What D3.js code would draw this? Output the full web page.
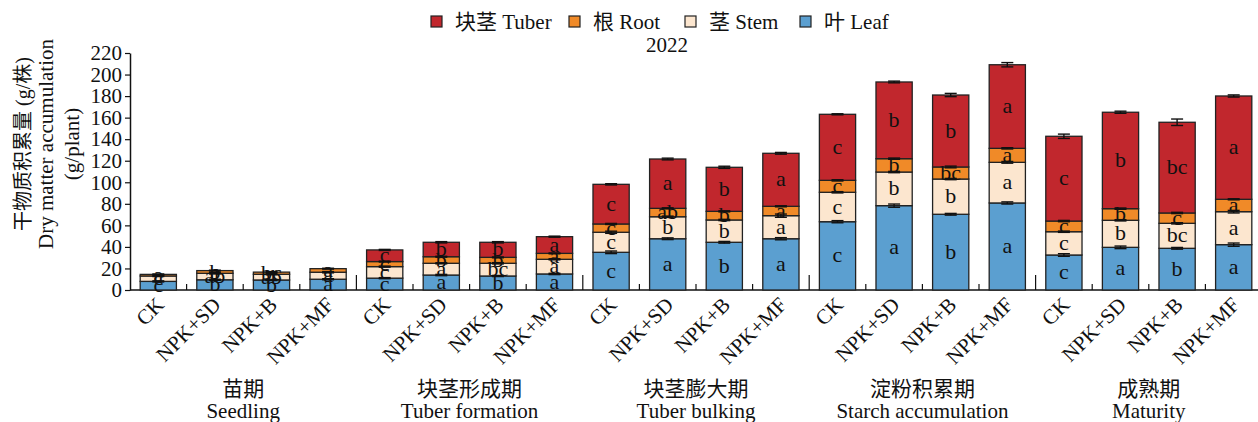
<!DOCTYPE html>
<html><head><meta charset="utf-8">
<script src="https://cdn.jsdelivr.net/npm/d3@7"></script>
<style>body{margin:0;background:#fff}svg{display:block}text{font-family:"Liberation Serif","Noto Sans CJK SC",serif;fill:#111}</style>
</head><body><svg id="c" width="1258" height="422"></svg>
<script>
const stagesCN = ["苗期","块茎形成期","块茎膨大期","淀粉积累期","成熟期"];
const stagesEN = ["Seedling","Tuber formation","Tuber bulking","Starch accumulation","Maturity"];
const treatments = ["CK","NPK+SD","NPK+B","NPK+MF"];
const seriesNames = ["叶 Leaf","茎 Stem","根 Root","块茎 Tuber"];
const legendOrder = ["块茎 Tuber","根 Root","茎 Stem","叶 Leaf"];
const yTicks = [0,20,40,60,80,100,120,140,160,180,200,220];
const title = "2022";
// values by stage x treatment (20 bars)
const leaf  = [8,9.5,9.3,10, 11,13.9,13,14.9, 35,47.6,44.3,47.6, 63.4,78.3,70.3,80.8, 32.5,39.6,38.7,42.1];
const stem  = [5,6,5.3,6.5, 10.7,10.9,11.8,13.6, 18.6,20.4,20.7,21.4, 27.3,31.2,32.7,37.7, 21.6,25.1,23.2,30.6];
const root  = [1.5,2.5,2,3.3, 4.7,6.1,5.5,5.5, 7.7,7.8,8,8.7, 11.1,12.4,11.2,13, 9.9,10.8,9.6,11.5];
const tuber = [0,0,0,0, 10.8,13.4,14,15.5, 36.8,45.8,40.9,49.2, 61.3,71.2,66.8,77.6, 78.7,89.5,84.2,95.9];
const leafErr  = [0.5,0.5,0.5,0.5, 0.5,0.6,0.5,0.6, 1.2,0.8,0.8,1, 1,1.5,0.8,1, 1.2,1.2,0.8,1.5];
const stemErr  = [0.5,0.6,0.5,0.6, 0.5,0.5,0.6,0.5, 1,0.6,0.6,1.5, 0.6,0.6,0.6,0.8, 0.6,0.6,0.6,1.2];
const rootErr  = [0.4,0.4,0.4,0.4, 0.4,0.4,0.4,0.4, 0.5,0.5,0.5,0.5, 0.6,0.6,0.8,0.6, 0.6,0.6,0.6,0.5];
const tuberErr = [0.5,0.6,0.5,0.5, 0.5,0.6,0.6,0.5, 0.6,0.8,1,0.8, 0.5,0.8,1.5,2, 2,1,3,1];
const leafLab  = ["c","b","b","a", "c","a","b","a", "c","a","b","a", "c","a","b","a", "c","a","b","a"];
const stemLab  = ["c","ab","ab","a", "c","a","bc","a", "c","b","b","a", "c","b","b","a", "c","b","bc","a"];
const rootLab  = ["a","b","bc","a", "c","b","b","a", "c","ab","b","a", "c","b","bc","a", "c","b","c","a"];
const tuberLab = ["","","","", "c","b","b","a", "c","a","b","a", "c","b","b","a", "c","b","bc","a"];
const colors = {"叶 Leaf":"#5b9fd0","茎 Stem":"#fce6cf","根 Root":"#f08a28","块茎 Tuber":"#c1272d"};

const FS = "21px";
const svg = d3.select("#c");
const cats = [];
stagesEN.forEach((s,i)=>treatments.forEach(t=>cats.push(s+"|"+t)));
const x = d3.scaleBand().domain(cats).range([130,1262]).paddingInner(0.36).paddingOuter(0.18);
const y = d3.scaleLinear().domain([0,220]).range([290,53]);
const vals = [leaf,stem,root,tuber], errs=[leafErr,stemErr,rootErr,tuberErr], labs=[leafLab,stemLab,rootLab,tuberLab];

// x axis line and ticks
svg.append("line").attr("x1",130).attr("x2",1258).attr("y1",y(0)).attr("y2",y(0)).attr("stroke","#111").attr("stroke-width",1.5);
const step = x.step();
for(let i=1;i<20;i++){
  const xx = x(cats[i]) - step*x.paddingInner()/2;
  const big = i%4===0;
  svg.append("line").attr("x1",xx).attr("x2",xx).attr("y1",y(0)).attr("y2",y(0)-(big?15:6)).attr("stroke","#111").attr("stroke-width",1.2);
}
// y axis
const ya = svg.append("g").attr("transform","translate(130,0)").call(d3.axisLeft(y).tickValues(yTicks).tickSize(5).tickSizeOuter(0).tickPadding(3));
ya.select(".domain").attr("stroke","#111").attr("stroke-width",1.5);
ya.selectAll(".tick line").attr("stroke","#111").attr("stroke-width",1.2);
ya.selectAll("text").style("font-size",FS).attr("fill","#111").style("font-family","Liberation Serif");

// bars
cats.forEach((c,i)=>{
  let base=0;
  vals.forEach((arr,k)=>{
    const v=arr[i]; if(v<=0) return;
    const top=base+v;
    svg.append("rect").attr("x",x(c)).attr("width",x.bandwidth()).attr("y",y(top)).attr("height",y(base)-y(top))
      .attr("fill",colors[seriesNames[k]]).attr("stroke","#222").attr("stroke-width",1.3);
    base=top;
  });
});
// error bars
cats.forEach((c,i)=>{
  let base=0;
  vals.forEach((arr,k)=>{
    const v=arr[i]; if(v<=0) return;
    const top=base+v, e=errs[k][i], cx=x(c)+x.bandwidth()/2;
    const g=svg.append("g").attr("stroke","#111").attr("stroke-width",1.4);
    g.append("line").attr("x1",cx).attr("x2",cx).attr("y1",y(top+e)).attr("y2",y(top-e));
    g.append("line").attr("x1",cx-6).attr("x2",cx+6).attr("y1",y(top+e)).attr("y2",y(top+e));
    g.append("line").attr("x1",cx-6).attr("x2",cx+6).attr("y1",y(top-e)).attr("y2",y(top-e));
    base=top;
  });
});
// letters
cats.forEach((c,i)=>{
  let base=0;
  vals.forEach((arr,k)=>{
    const v=arr[i]; if(v<=0) return;
    const top=base+v, cx=x(c)+x.bandwidth()/2;
    svg.append("text").attr("x",cx).attr("y",(y(base)+y(top))/2).attr("dy","0.3em").attr("text-anchor","middle").style("font-size","22px").text(labs[k][i]);
    base=top;
  });
});
// x labels
cats.forEach((c,i)=>{
  const cx=x(c)+x.bandwidth()/2;
  svg.append("text").attr("transform",`translate(${cx+7},306) rotate(-45)`).attr("text-anchor","end").style("font-size",FS).text(treatments[i%4]);
});
// stage labels
stagesCN.forEach((s,i)=>{
  const cx = 130 + step*(4*i+2);
  svg.append("text").attr("x",cx).attr("y",396).attr("text-anchor","middle").style("font-size",FS).text(s);
  svg.append("text").attr("x",cx).attr("y",418).attr("text-anchor","middle").style("font-size",FS).text(stagesEN[i]);
});
// y title
const yt=[["干物质积累量 (g/株)",23,"20px"],["Dry matter accumulation",46,FS],["(g/plant)",72,FS]];
yt.forEach(([t,xx,fs])=>{
  svg.append("text").attr("transform",`translate(${xx},144) rotate(-90)`).attr("text-anchor","middle").attr("dy","0.35em").style("font-size",fs).text(t);
});
// legend
const legX=[431,569,685,800];
legendOrder.forEach((n,i)=>{
  svg.append("rect").attr("x",legX[i]).attr("y",16).attr("width",11).attr("height",11).attr("fill",colors[n]).attr("stroke","#222").attr("stroke-width",1.2);
  svg.append("text").attr("x",legX[i]+24).attr("y",29).style("font-size",FS).text(n);
});
svg.append("text").attr("x",667).attr("y",52).attr("text-anchor","middle").style("font-size",FS).text(title);
</script></body></html>
